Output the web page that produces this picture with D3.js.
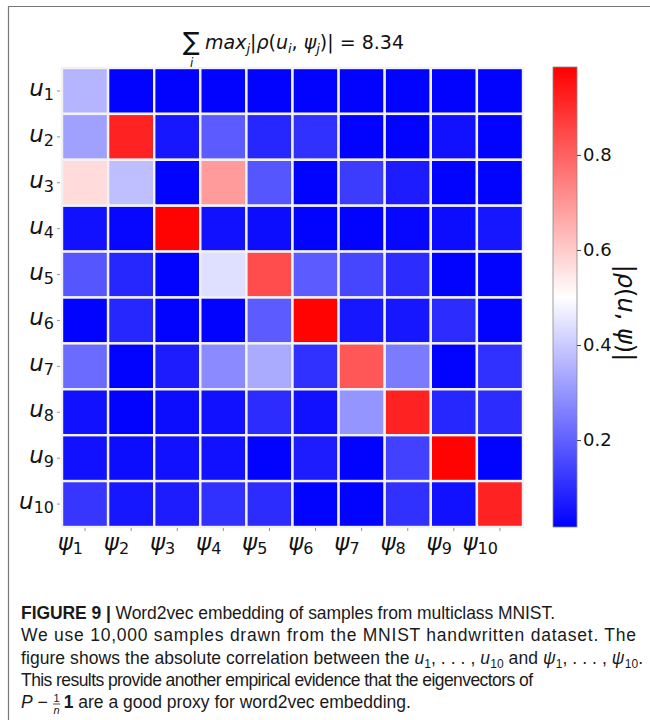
<!DOCTYPE html>
<html lang="en">
<head>
<meta charset="utf-8">
<title>Word2vec embedding correlation</title>
<script src="https://d3js.org/d3.v7.min.js"></script>
<style>
  body { margin: 0; background: #fff; }
  svg text { font-family: "DejaVu Sans", sans-serif; fill: #111; }
  .cap text { font-family: "Liberation Sans", Arial, sans-serif; fill: #1a1a1a; }
</style>
</head>
<body>
<script>
// data
const subs = ["1", "2", "3", "4", "5", "6", "7", "8", "9", "10"];
// |rho(u_i, psi_j)|, one row per u_i, columns psi_1..psi_10
const corr = [
  [0.36, 0.02, 0.02, 0.02, 0.02, 0.02, 0.02, 0.02, 0.02, 0.02],
  [0.32, 0.92, 0.06, 0.19, 0.09, 0.11, 0.02, 0.02, 0.05, 0.02],
  [0.57, 0.38, 0.02, 0.69, 0.18, 0.02, 0.13, 0.07, 0.02, 0.02],
  [0.05, 0.03, 0.98, 0.05, 0.04, 0.02, 0.02, 0.03, 0.04, 0.06],
  [0.18, 0.09, 0.02, 0.44, 0.84, 0.19, 0.15, 0.10, 0.02, 0.02],
  [0.02, 0.09, 0.02, 0.02, 0.19, 0.98, 0.06, 0.06, 0.10, 0.02],
  [0.22, 0.02, 0.07, 0.28, 0.34, 0.11, 0.82, 0.25, 0.02, 0.11],
  [0.05, 0.02, 0.04, 0.05, 0.10, 0.05, 0.30, 0.92, 0.09, 0.10],
  [0.05, 0.04, 0.05, 0.05, 0.02, 0.07, 0.02, 0.14, 0.98, 0.02],
  [0.12, 0.06, 0.07, 0.11, 0.10, 0.02, 0.02, 0.11, 0.05, 0.92]
];
const cbarTicks = [0.2, 0.4, 0.6, 0.8];
const vmin = 0.017, vmax = 0.985;
const titleTotal = "8.34";

const w = 650, h = 720;
const svg = d3.select("body").append("svg").attr("width", w).attr("height", h);

// page frame (left + top)
svg.append("path")
  .attr("d", "M8.5,720 V6.5 H650")
  .attr("fill", "none").attr("stroke", "#777").attr("stroke-width", 1.2);

// scales
const x = d3.scaleBand().domain(d3.range(10)).range([62, 523]);
const y = d3.scaleBand().domain(d3.range(10)).range([68, 527]);
const color = d3.scaleLinear()
  .domain([vmin, (vmin + vmax) / 2, vmax])
  .range(["#0000ff", "#ffffff", "#ff0000"]);

// cells
const cells = [];
corr.forEach((row, i) => row.forEach((v, j) => cells.push({ i, j, v })));

svg.append("g").selectAll("rect")
  .data(cells)
  .enter()
  .append("rect")
  .attr("x", d => x(d.j))
  .attr("y", d => y(d.i))
  .attr("width", x.bandwidth())
  .attr("height", y.bandwidth())
  .attr("fill", d => color(d.v))
  .attr("stroke", "#f2f2f2")
  .attr("stroke-width", 2.4);

// y ticks + labels
const yl = svg.append("g");
subs.forEach((s, i) => {
  const cy = y(i) + y.bandwidth() / 2;
  yl.append("line").attr("x1", 57).attr("x2", 60).attr("y1", cy).attr("y2", cy)
    .attr("stroke", "#777").attr("stroke-width", 0.8);
  const t = yl.append("text").attr("x", 54).attr("y", cy + 5)
    .attr("text-anchor", "end").attr("font-size", 23);
  t.append("tspan").attr("font-style", "italic").text("u");
  t.append("tspan").attr("font-size", 16).attr("dy", 4).text(s);
});

// x ticks + labels
const xl = svg.append("g");
subs.forEach((s, j) => {
  const cx = x(j) + x.bandwidth() / 2;
  xl.append("line").attr("x1", cx).attr("x2", cx).attr("y1", 528).attr("y2", 531)
    .attr("stroke", "#777").attr("stroke-width", 0.8);
  const t = xl.append("text").attr("x", cx - 2).attr("y", 550)
    .attr("text-anchor", "end").attr("font-size", 23);
  t.append("tspan").attr("font-style", "italic").text("ψ");
  t.append("tspan").attr("font-size", 16).attr("dy", 4).text(s);
});

// colour bar
const cb = d3.scaleLinear().domain([vmin, vmax]).range([527, 67]);
const grad = svg.append("defs").append("linearGradient")
  .attr("id", "bwr").attr("x1", 0).attr("y1", 1).attr("x2", 0).attr("y2", 0);
grad.append("stop").attr("offset", "0%").attr("stop-color", color(vmin));
grad.append("stop").attr("offset", "50%").attr("stop-color", color((vmin + vmax) / 2));
grad.append("stop").attr("offset", "100%").attr("stop-color", color(vmax));

svg.append("rect")
  .attr("x", 553).attr("y", cb(vmax)).attr("width", 24).attr("height", cb(vmin) - cb(vmax))
  .attr("fill", "url(#bwr)").attr("stroke", "#888").attr("stroke-width", 0.8);

const cbAxis = d3.axisRight(cb).tickValues(cbarTicks).tickSize(4).tickPadding(2)
  .tickFormat(d3.format(".1f"));
const cbg = svg.append("g").attr("transform", "translate(577,0)").call(cbAxis);
cbg.select(".domain").remove();
cbg.selectAll(".tick line").attr("stroke", "#444");
cbg.selectAll(".tick text").attr("font-size", 18).attr("font-family", "DejaVu Sans").attr("fill", "#111");

const cbl = svg.append("text")
  .attr("transform", "translate(618,313) rotate(90)")
  .attr("text-anchor", "middle").attr("font-size", 24);
cbl.append("tspan").text("|");
cbl.append("tspan").attr("font-style", "italic").text("ρ");
cbl.append("tspan").text("(");
cbl.append("tspan").attr("font-style", "italic").text("u");
cbl.append("tspan").text(", ");
cbl.append("tspan").attr("font-style", "italic").text("ψ");
cbl.append("tspan").text(")|");

// title
svg.append("text").attr("x", 183).attr("y", 50).attr("font-size", 25).text("∑");
svg.append("text").attr("x", 190).attr("y", 67).attr("font-size", 12)
  .attr("font-style", "italic").text("i");
const tt = svg.append("text").attr("x", 205).attr("y", 49).attr("font-size", 19);
tt.append("tspan").attr("font-style", "italic").text("max");
tt.append("tspan").attr("font-style", "italic").attr("font-size", 13).attr("dy", 4).text("j");
tt.append("tspan").attr("dy", -4).text("|");
tt.append("tspan").attr("font-style", "italic").text("ρ");
tt.append("tspan").text("(");
tt.append("tspan").attr("font-style", "italic").text("u");
tt.append("tspan").attr("font-style", "italic").attr("font-size", 13).attr("dy", 4).text("i");
tt.append("tspan").attr("dy", -4).text(", ");
tt.append("tspan").attr("font-style", "italic").text("ψ");
tt.append("tspan").attr("font-style", "italic").attr("font-size", 13).attr("dy", 4).text("j");
tt.append("tspan").attr("dy", -4).text(")| = " + titleTotal);

// caption
const cap = svg.append("g").attr("class", "cap").attr("font-size", 17.5);
const l1 = cap.append("text").attr("x", 21).attr("y", 619)
  .attr("textLength", 534).attr("lengthAdjust", "spacing");
l1.append("tspan").attr("font-weight", "bold").text("FIGURE 9 |");
l1.append("tspan").text(" Word2vec embedding of samples from multiclass MNIST.");

cap.append("text").attr("x", 21).attr("y", 641)
  .attr("textLength", 615).attr("lengthAdjust", "spacing")
  .text("We use 10,000 samples drawn from the MNIST handwritten dataset. The");

// line 3: pieces [text, kind]; kind "i" italic, "s" subscript
const l3parts = [
  ["figure shows the absolute correlation between the ", ""],
  ["u", "i"], ["1", "s"], [", . . . , ", ""], ["u", "i"], ["10", "s"],
  [" and ", ""],
  ["ψ", "i"], ["1", "s"], [", . . . , ", ""], ["ψ", "i"], ["10", "s"],
  [".", ""]
];
const l3 = cap.append("text").attr("x", 21).attr("y", 664)
  .attr("textLength", 622).attr("lengthAdjust", "spacing");
let shifted = false;
l3parts.forEach(([txt, kind]) => {
  const ts = l3.append("tspan").text(txt);
  if (kind === "i") ts.attr("font-style", "italic");
  if (kind === "s") {
    ts.attr("font-size", 12).attr("dy", 4);
    shifted = true;
  } else if (shifted) {
    ts.attr("dy", -4);
    shifted = false;
  }
});

cap.append("text").attr("x", 21).attr("y", 686)
  .attr("textLength", 512).attr("lengthAdjust", "spacing")
  .text("This results provide another empirical evidence that the eigenvectors of");

const l5 = cap.append("text").attr("x", 21).attr("y", 708);
l5.append("tspan").attr("font-style", "italic").text("P");
l5.append("tspan").text(" − ");
l5.append("tspan").attr("dx", 11).attr("font-weight", "bold").text("1");
l5.append("tspan").text(" are a good proxy for word2vec embedding.");
// small 1/n fraction before the bold 1
const bx = l5.node().getStartPositionOfChar(4).x;
const fx = bx - 7;
cap.append("text").attr("x", fx).attr("y", 702).attr("font-size", 11)
  .attr("text-anchor", "middle").text("1");
cap.append("line").attr("x1", fx - 3.5).attr("x2", fx + 3.5).attr("y1", 704).attr("y2", 704)
  .attr("stroke", "#1a1a1a").attr("stroke-width", 0.8);
cap.append("text").attr("x", fx).attr("y", 714).attr("font-size", 11)
  .attr("font-style", "italic").attr("text-anchor", "middle").text("n");
</script>
</body>
</html>
